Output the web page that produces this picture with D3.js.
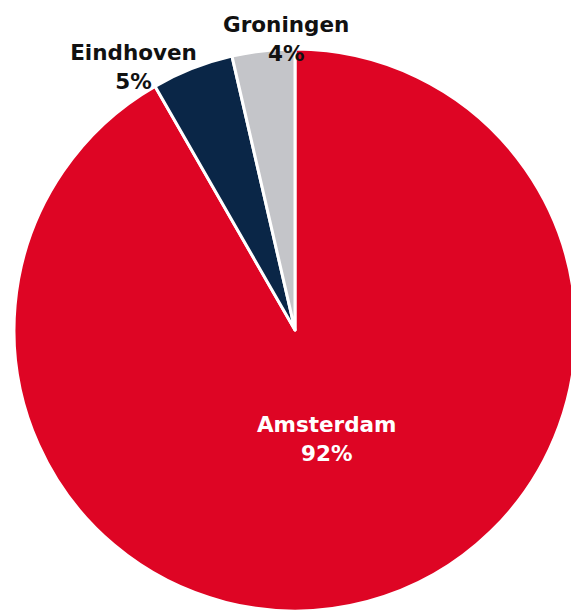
<!DOCTYPE html>
<html>
<head>
<meta charset="utf-8">
<script src="https://cdn.jsdelivr.net/npm/d3@7"></script>
<style>
  html, body { margin: 0; padding: 0; background: #fff; }
  svg { display: block; }
</style>
</head>
<body>
<div id="chart"></div>
<script>
// Share of respondents per city (slice order clockwise from 12 o'clock)
var cities = ["Amsterdam", "Eindhoven", "Groningen"];
var shares = [91.7, 4.7, 3.6];
var pctLabels = ["92%", "5%", "4%"];
var colors = ["#de0524", "#0a2647", "#c4c5c9"];

// pie_chart - draw pie with inner label for big slice, outer labels for small ones
function pie_chart(div_id) {
	var width = 571, height = 610,
		cx = 295, cy = 330,
		radius = 281;

	var data = cities.map(function(c, i) {
		return { city: c, value: shares[i], label: pctLabels[i], color: colors[i] };
	});

	var svg = d3.select('#' + div_id).append("svg")
		.attr("width", width)
		.attr("height", height)
	  .append("g")
		.attr("transform", "translate(" + cx + "," + cy + ")");

	var pie = d3.pie()
		.sort(null)
		.value(function(d) { return d.value; });

	var arc = d3.arc()
		.innerRadius(0)
		.outerRadius(radius);

	var arcs = pie(data);

	svg.selectAll(".slice")
		.data(arcs)
		.enter().append("path")
		  .attr("class", "slice")
		  .attr("d", arc)
		  .attr("fill", function(d) { return d.data.color; })
		  .attr("stroke", "#fff")
		  .attr("stroke-width", 3)
		  .attr("stroke-linejoin", "round");

	// label arcs: inside for the large slice, outside for the small ones
	var innerArc = d3.arc().innerRadius(123).outerRadius(123);
	var outerArc = d3.arc().innerRadius(radius + 27).outerRadius(radius + 27);
	// small shifts so the outer labels don't collide
	var nudge = { "Eindhoven": [-49, 34], "Groningen": [26, 25] };

	var labels = svg.selectAll(".label")
		.data(arcs)
		.enter().append("text")
		  .attr("class", "label")
		  .attr("text-anchor", "middle")
		  .attr("font-family", "'DejaVu Sans', sans-serif")
		  .attr("font-weight", "bold")
		  .attr("font-size", 21.5)
		  .attr("fill", function(d, i) { return i === 0 ? "#fff" : "#111"; })
		  .attr("transform", function(d, i) {
			  var p;
			  if (i === 0) {
				  p = innerArc.centroid(d);
			  } else {
				  p = outerArc.centroid(d);
				  var n = nudge[d.data.city];
				  p = [p[0] + n[0], p[1] + n[1]];
			  }
			  return "translate(" + p[0] + "," + p[1] + ")";
		  });

	labels.append("tspan")
		.attr("x", 0)
		.attr("y", -17)
		.text(function(d) { return d.data.city; });

	labels.append("tspan")
		.attr("x", 0)
		.attr("y", 12)
		.text(function(d) { return d.data.label; });
} // pie_chart

pie_chart("chart");
</script>
</body>
</html>
